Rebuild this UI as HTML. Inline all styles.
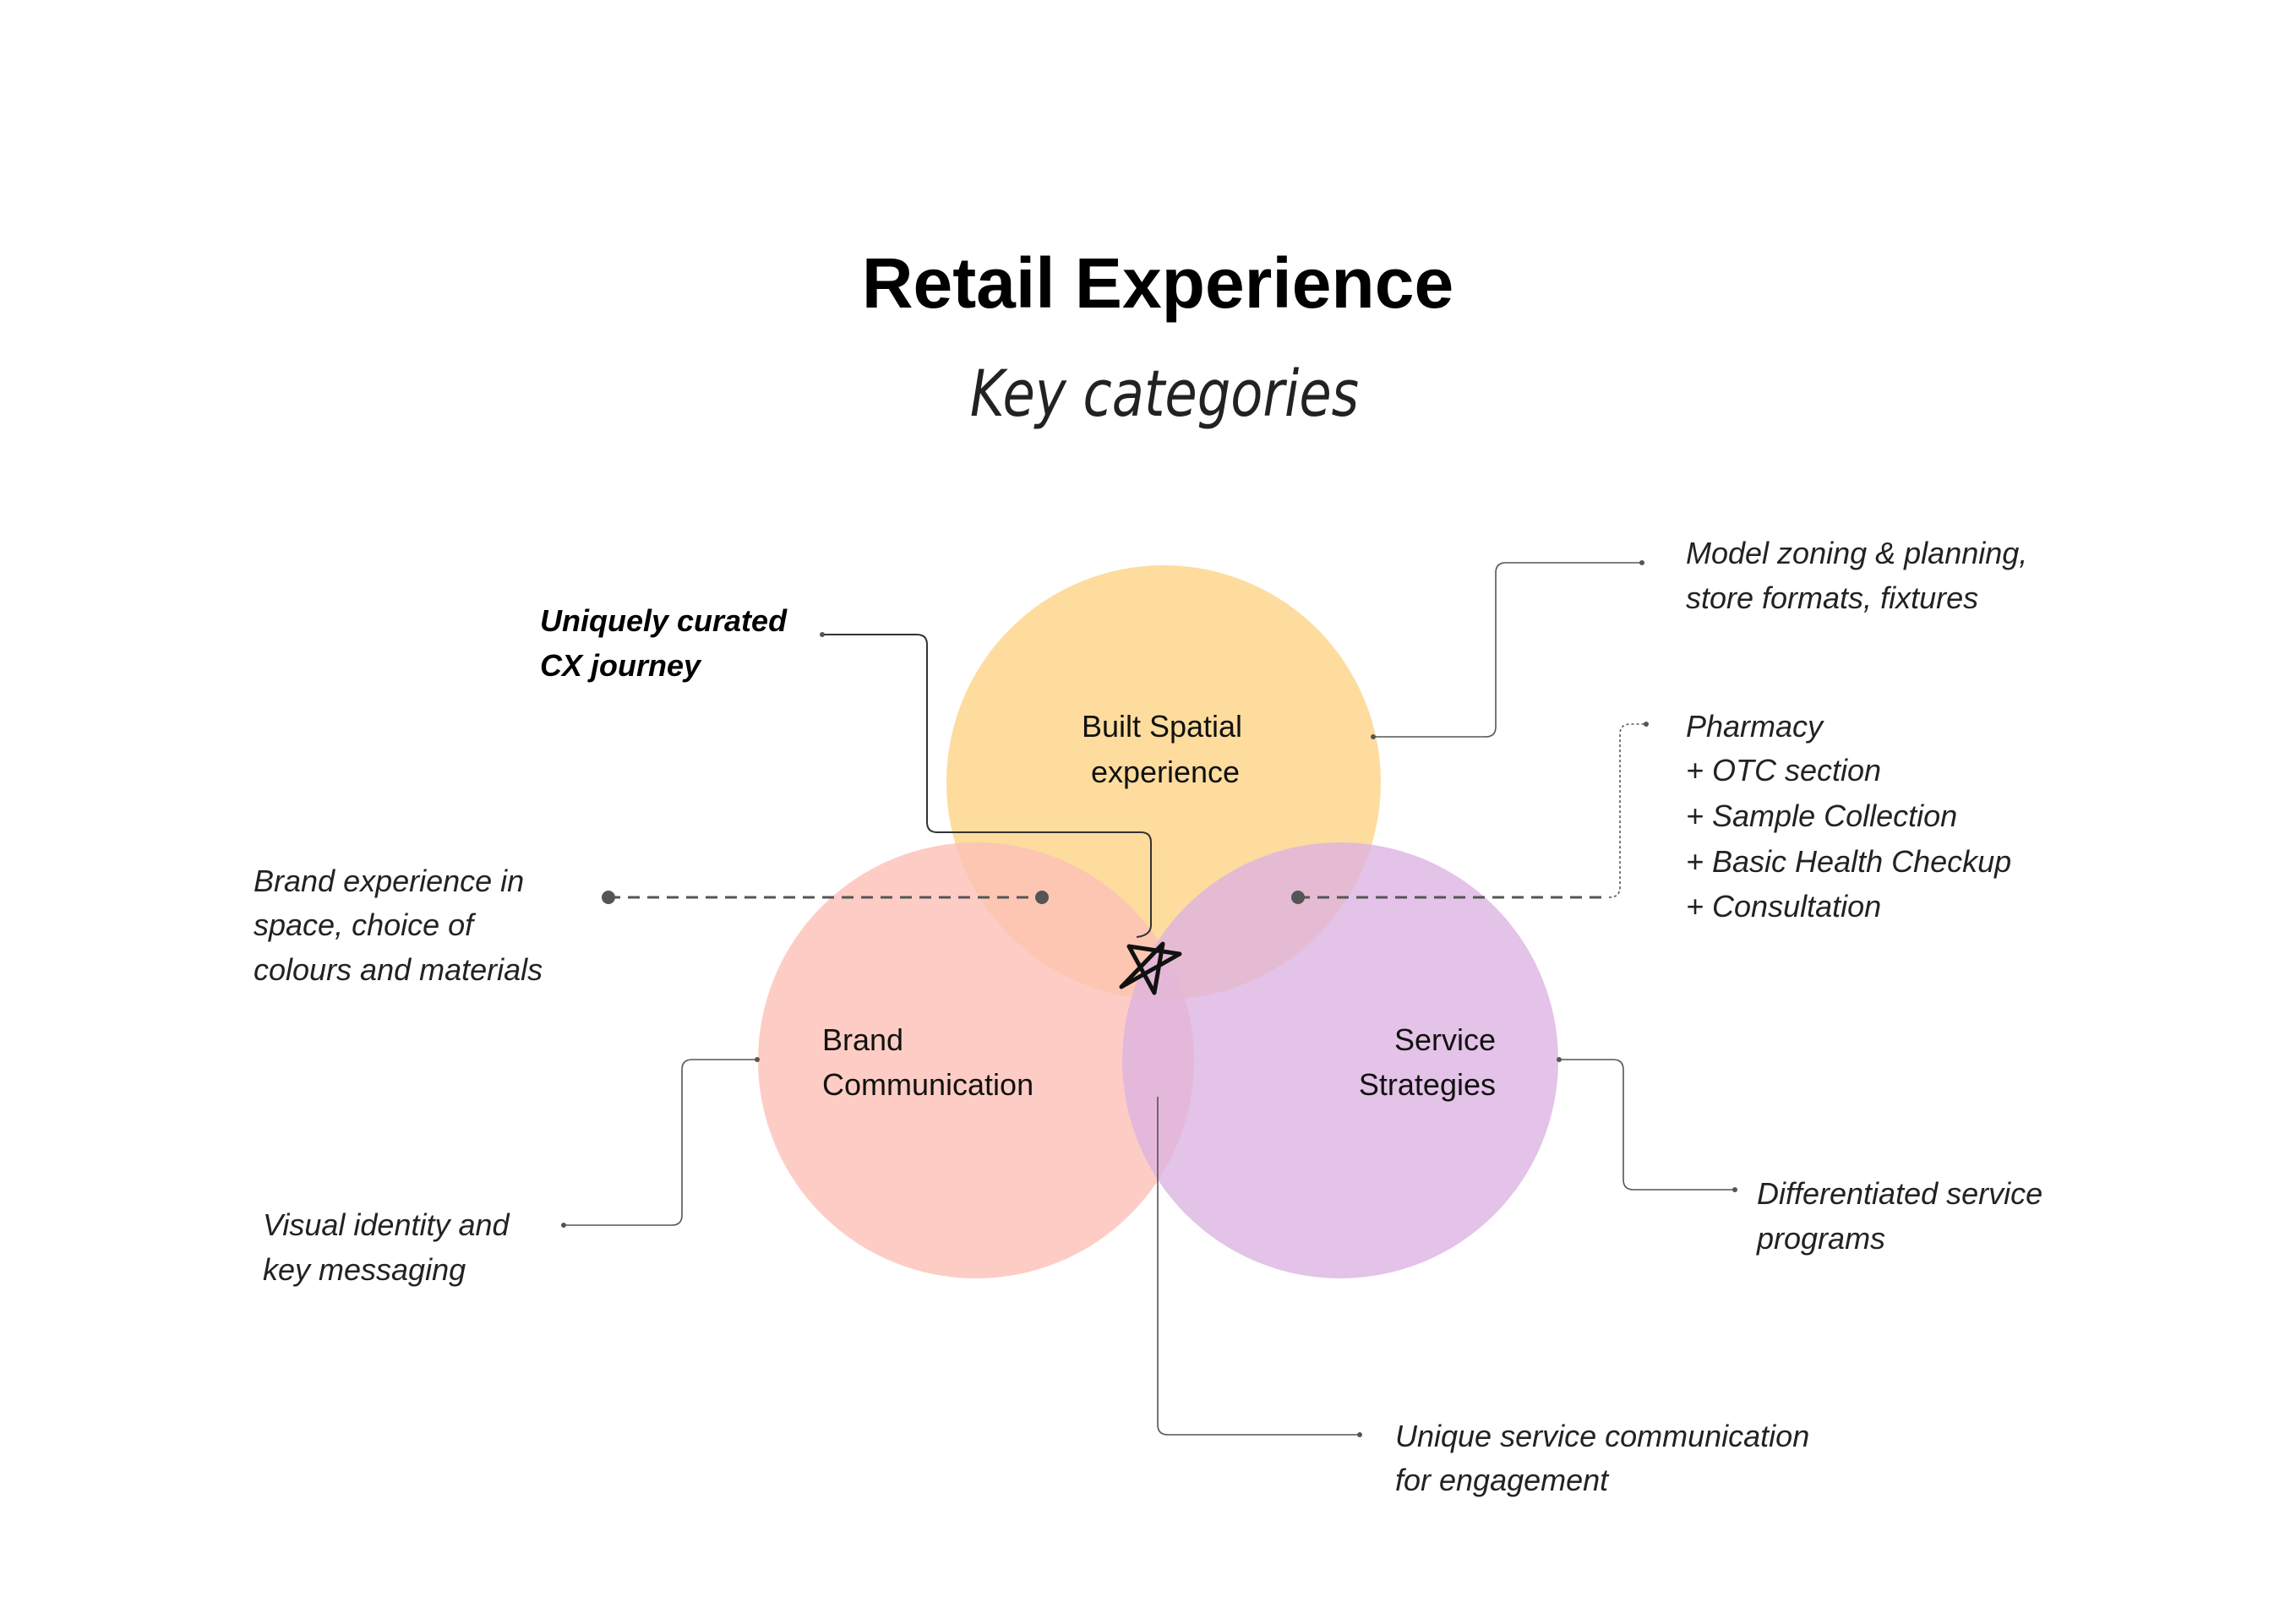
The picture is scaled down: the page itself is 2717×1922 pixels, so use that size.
<!DOCTYPE html>
<html><head><meta charset="utf-8"><style>
html,body{margin:0;padding:0;background:#fff;}
body{width:2717px;height:1922px;position:relative;overflow:hidden;font-family:"Liberation Sans",sans-serif;}
svg{position:absolute;left:0;top:0;}
</style></head><body>
<svg width="2717" height="1922" viewBox="0 0 2717 1922" xmlns="http://www.w3.org/2000/svg">
<text x="1370" y="364" text-anchor="middle" font-family="Liberation Sans" font-weight="bold" font-size="84" fill="#000">Retail Experience</text>
<text x="1378" y="492" text-anchor="middle" font-family="DejaVu Sans" font-weight="300" font-size="76" fill="#222" transform="translate(1378 0) scale(0.82 1) translate(-1378 0)" style="font-style:italic">Key categories</text>

<circle cx="1377" cy="926" r="257" fill="#fddc9e"/>
<circle cx="1155" cy="1255" r="258" fill="#fcc0b6" fill-opacity="0.8"/>
<circle cx="1586" cy="1255" r="258" fill="#dcb2e2" fill-opacity="0.78"/>

<g fill="none" stroke="#555" stroke-width="1.6">
<path d="M973 751 H1085 Q1097 751 1097 763 V973 Q1097 985 1109 985 H1350 Q1362 985 1362 997 V1095 Q1362 1107 1345 1109" stroke="#333" stroke-width="2"/>
<path d="M1625 872 H1758 Q1770 872 1770 860 V678 Q1770 666 1782 666 H1943"/>
<path d="M896 1254 H819 Q807 1254 807 1266 V1438 Q807 1450 795 1450 H667"/>
<path d="M1845 1254 H1909 Q1921 1254 1921 1266 V1396 Q1921 1408 1933 1408 H2053"/>
<path d="M1370 1298 V1686 Q1370 1698 1382 1698 H1609"/>
<path d="M1904 1062 Q1917 1062 1917 1050 V869 Q1917 857 1929 857 H1948" stroke-dasharray="3 3"/>
</g>
<g stroke="#555" stroke-width="3" stroke-dasharray="14 9">
<line x1="720" y1="1062" x2="1233" y2="1062"/>
<line x1="1536" y1="1062" x2="1904" y2="1062"/>
</g>
<g fill="#555">
<circle cx="720" cy="1062" r="8"/><circle cx="1233" cy="1062" r="8"/><circle cx="1536" cy="1062" r="8"/>
<circle cx="973" cy="751" r="3"/><circle cx="1625" cy="872" r="3"/><circle cx="1943" cy="666" r="3"/>
<circle cx="896" cy="1254" r="3"/><circle cx="667" cy="1450" r="3"/><circle cx="1845" cy="1254" r="3"/>
<circle cx="2053" cy="1408" r="3"/><circle cx="1609" cy="1698" r="3"/><circle cx="1948" cy="857" r="3"/>
</g>
<path d="M1336 1120 L1366 1175 L1376 1117 L1327 1168 L1396 1129 Z" fill="none" stroke="#111" stroke-width="5" stroke-linejoin="round"/>

<g font-family="Liberation Sans" font-size="36" fill="#111">
<text x="1375" y="872" text-anchor="middle">Built Spatial</text>
<text x="1379" y="926" text-anchor="middle">experience</text>
<text x="973" y="1243">Brand</text>
<text x="973" y="1296">Communication</text>
<text x="1770" y="1243" text-anchor="end">Service</text>
<text x="1770" y="1296" text-anchor="end">Strategies</text>
</g>
<g font-family="Liberation Sans" font-style="italic" font-size="36" fill="#222">
<text x="639" y="747" font-weight="bold" fill="#000">Uniquely curated</text>
<text x="639" y="800" font-weight="bold" fill="#000">CX journey</text>
<text x="300" y="1055">Brand experience in</text>
<text x="300" y="1107">space, choice of</text>
<text x="300" y="1160">colours and materials</text>
<text x="311" y="1462">Visual identity and</text>
<text x="311" y="1515">key messaging</text>
<text x="1995" y="667">Model zoning &amp; planning,</text>
<text x="1995" y="720">store formats, fixtures</text>
<text x="1995" y="872">Pharmacy</text>
<text x="1995" y="924">+ OTC section</text>
<text x="1995" y="978">+ Sample Collection</text>
<text x="1995" y="1032">+ Basic Health Checkup</text>
<text x="1995" y="1085">+ Consultation</text>
<text x="2079" y="1425">Differentiated service</text>
<text x="2079" y="1478">programs</text>
<text x="1651" y="1712">Unique service communication</text>
<text x="1651" y="1764">for engagement</text>
</g>
</svg>
</body></html>
